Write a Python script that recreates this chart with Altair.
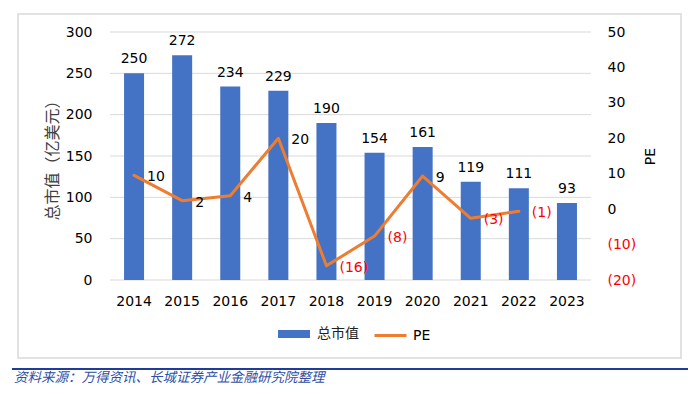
import altair as alt
import pandas as pd

# ---- data ----
years = ["2014", "2015", "2016", "2017", "2018", "2019", "2020", "2021", "2022", "2023"]
market_cap = [250, 272, 234, 229, 190, 154, 161, 119, 111, 93]
pe_values = [9.55, 2.4, 3.8, 20.0, -16.0, -7.6, 9.35, -2.6, -0.6, None]
left_ticks = [0, 50, 100, 150, 200, 250, 300]
right_ticks = [-20, -10, 0, 10, 20, 30, 40, 50]
cap_name = "总市值"
pe_name = "PE"
left_title = "总市值（亿美元）"
right_title = "PE"
source_text = "资料来源：万得资讯、长城证券产业金融研究院整理"

df = pd.DataFrame({"year": years, "cap": market_cap, "pe": pe_values})
grid_df = pd.DataFrame({"cap": left_ticks})

FONT = "DejaVu Sans, Noto Sans CJK SC"
CJK = "Noto Sans CJK SC, DejaVu Sans"
BLUE = "#4472C4"
ORANGE = "#ED7D31"
GRID = "#d9d9d9"

x_enc = alt.X(
    "year:N",
    sort=years,
    scale=alt.Scale(paddingInner=0.584, paddingOuter=0.292),
    axis=alt.Axis(title=None, labelAngle=0, labelFontSize=14, labelPadding=14,
                  ticks=False, domain=False, labelColor="black", labelFont=FONT),
)

y_cap = alt.Y(
    "cap:Q",
    scale=alt.Scale(domain=[0, 300], nice=False),
    axis=alt.Axis(values=left_ticks, title=left_title, titleFont=CJK, titleFontSize=16,
                  titleFontWeight="normal", titleColor="#404040", titlePadding=5,
                  labelFont=FONT, labelFontSize=14, labelColor="black", labelPadding=18,
                  ticks=False, domain=False, grid=False),
)

y_pe = alt.Y(
    "pe:Q",
    scale=alt.Scale(domain=[-20, 50], nice=False),
    axis=alt.Axis(orient="right", values=right_ticks, title=right_title, titleFont=FONT,
                  titleFontSize=14, titleFontWeight="normal", titleColor="black",
                  titleAngle=270, titlePadding=22,
                  labelFont=FONT, labelFontSize=14, labelPadding=16,
                  labelExpr="datum.value < 0 ? '(' + abs(datum.value) + ')' : datum.value",
                  labelColor={"condition": {"test": "datum.value < 0", "value": "#FF0000"}, "value": "black"},
                  ticks=False, domain=False, grid=False),
)

base = alt.Chart(df)

grid_rules = alt.Chart(grid_df).mark_rule(color=GRID, strokeWidth=1).encode(y=y_cap)

bars = base.transform_calculate(s1="'%s'" % cap_name).mark_bar().encode(
    x=x_enc,
    y=y_cap,
    color=alt.Color("s1:N", scale=alt.Scale(domain=[cap_name], range=[BLUE]),
                    legend=alt.Legend(orient="none", legendX=168, legendY=286, title=None,
                                      symbolType="M-1,-0.25H1V0.25H-1Z", symbolSize=1024,
                                      symbolStrokeWidth=0, padding=0,
                                      labelFont=CJK, labelFontSize=14, labelColor="#222",
                                      labelOffset=7)),
)
bar_text = base.mark_text(dy=-10, baseline="alphabetic", fontSize=14, font=FONT, color="black").encode(
    x=x_enc, y=y_cap, text="cap:Q"
)

pe_base = base.transform_filter("isValid(datum.pe)")
line = pe_base.transform_calculate(s2="'%s'" % pe_name).mark_line(
    strokeWidth=3, strokeJoin="round", strokeCap="round"
).encode(
    x=x_enc,
    y=y_pe,
    stroke=alt.Stroke("s2:N", scale=alt.Scale(domain=[pe_name], range=[ORANGE]),
                      legend=alt.Legend(orient="none", legendX=263, legendY=286, title=None,
                                        symbolType="stroke", symbolSize=1024,
                                        symbolStrokeWidth=3, padding=0,
                                        labelFont=FONT, labelFontSize=14, labelColor="black",
                                        labelOffset=5)),
)
pe_text = pe_base.transform_calculate(
    lbl="datum.pe < 0 ? '(' + format(abs(datum.pe), '.0f') + ')' : format(datum.pe, '.0f')"
).mark_text(align="left", baseline="middle", dx=13, dy=2, fontSize=14, font=FONT).encode(
    x=x_enc,
    y=y_pe,
    text="lbl:N",
    color=alt.condition("datum.pe < 0", alt.value("#FF0000"), alt.value("black")),
)

deco = alt.Chart(pd.DataFrame({"k": [0]}))
frame = deco.mark_rect(fill="transparent", stroke=GRID, strokeWidth=1.5).encode(
    x=alt.value(-92), x2=alt.value(571), y=alt.value(-18), y2=alt.value(326)
)
footer_rule = deco.mark_rule(color="#1f3c99", strokeWidth=2).encode(
    x=alt.value(-98), x2=alt.value(578), y=alt.value(337)
)
footer_text = deco.mark_text(align="left", baseline="middle", fontStyle="italic", fontSize=13.5,
                             font=CJK, color="#2d4fa5").encode(
    x=alt.value(-96), y=alt.value(346), text=alt.value(source_text)
)

chart = alt.layer(
    frame,
    alt.layer(grid_rules, bars, bar_text),
    alt.layer(line, pe_text),
    footer_rule,
    footer_text,
).resolve_scale(y="independent").properties(
    width=481,
    height=248,
    padding={"left": 102, "top": 24, "right": 100, "bottom": 108},
    autosize=alt.AutoSizeParams(type="none"),
    background="white",
).configure_view(stroke=None)

chart.save("out.html", embed_options={"renderer": "svg", "actions": False})
